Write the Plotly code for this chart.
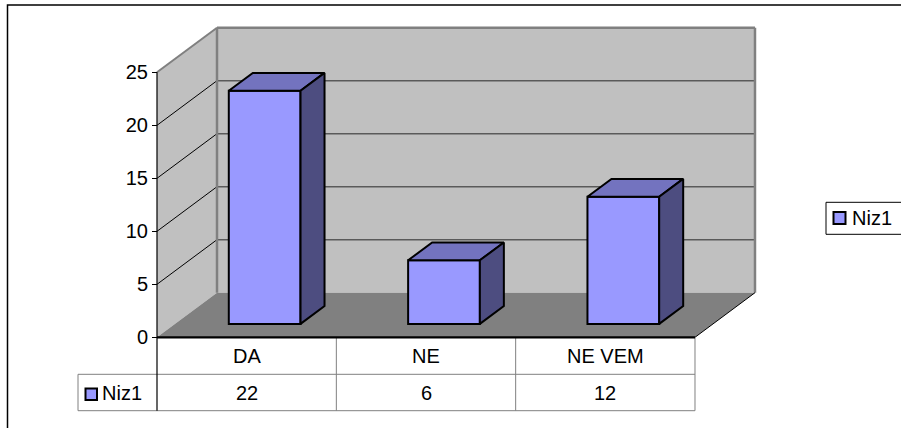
import plotly.graph_objects as go

# ---- data ----
categories = ["DA", "NE", "NE VEM"]
values = [22, 6, 12]
series_name = "Niz1"
y_ticks = [0, 5, 10, 15, 20, 25]

# ---- geometry (pixel calibration of the oblique projection) ----
W, H = 901, 428
X0_PX, CAT_PX = 157.0, 179.33      # front x of category 0, px per category
Y0_PX, UNIT_PX = 337.3, 10.6       # front y of value 0, px per value unit
DEPTH_DX_PX, DEPTH_DY_PX = 60.0, 44.6
DXc = DEPTH_DX_PX / CAT_PX          # depth offset in category units
DYv = DEPTH_DY_PX / UNIT_PX         # depth offset in value units
VMAX = 25
NCAT = len(categories)
BAR_D0, BAR_D1 = 0.3, 0.7
BAR_W = 0.4

def P(c, v, d):
    return c + d * DXc, v + d * DYv

def xd(px):
    return (px - X0_PX) / CAT_PX

def yd(py):
    return (Y0_PX - py) / UNIT_PX

FONT = "Liberation Sans, Arial, sans-serif"
FRONT = "#9999FF"
TOP = "#7373BF"
SIDE = "#4D4D80"
WALL = "#C0C0C0"
FLOOR = "#808080"

fig = go.Figure()

shapes = []

def poly(pts, fill, line_color=None, line_width=0, layer="below"):
    path = "M " + " L ".join(f"{x},{y}" for x, y in pts) + " Z"
    shapes.append(dict(type="path", path=path, xref="x", yref="y",
                       fillcolor=fill, layer=layer,
                       line=dict(color=line_color or fill, width=line_width)))

def seg(p0, p1, color, width, layer="below", dash="solid"):
    shapes.append(dict(type="line", xref="x", yref="y", x0=p0[0], y0=p0[1],
                       x1=p1[0], y1=p1[1], layer=layer,
                       line=dict(color=color, width=width, dash=dash)))

# walls and floor
poly([P(0, 0, 0), P(0, VMAX, 0), P(0, VMAX, 1), P(0, 0, 1)], WALL)
poly([P(0, 0, 1), P(0, VMAX, 1), P(NCAT, VMAX, 1), P(NCAT, 0, 1)], WALL)
poly([P(0, 0, 0), P(NCAT, 0, 0), P(NCAT, 0, 1), P(0, 0, 1)], FLOOR)

# gridlines
for t in y_ticks[1:-1]:
    seg(P(0, t, 0), P(0, t, 1), "#000000", 1)
    seg(P(0, t, 1), P(NCAT, t, 1), "#5a5a5a", 1.4)

# wall edges
seg(P(0, 0, 1), P(0, VMAX, 1), "#808080", 2.5)
seg(P(0, VMAX, 1), P(NCAT, VMAX, 1), "#808080", 2.5)
seg(P(NCAT, VMAX, 1), P(NCAT, 0, 1), "#808080", 2.5)
seg(P(0, VMAX, 0), P(0, VMAX, 1), "#808080", 2)
seg(P(NCAT, 0, 0), P(NCAT, 0, 1), "#000000", 1)

# bar fronts via bar trace
fig.add_trace(go.Bar(
    x=[i + 0.5 + BAR_D0 * DXc for i in range(NCAT)],
    y=values, base=BAR_D0 * DYv, width=BAR_W,
    marker=dict(color=FRONT, line=dict(color="black", width=2)),
    name=series_name, showlegend=False, hoverinfo="skip"))

# bar tops and sides
for i, v in enumerate(values):
    c0, c1 = i + 0.5 - BAR_W / 2, i + 0.5 + BAR_W / 2
    top = [P(c0, v, BAR_D0), P(c1, v, BAR_D0), P(c1, v, BAR_D1), P(c0, v, BAR_D1), P(c0, v, BAR_D0)]
    side = [P(c1, 0, BAR_D0), P(c1, v, BAR_D0), P(c1, v, BAR_D1), P(c1, 0, BAR_D1), P(c1, 0, BAR_D0)]
    for pts, col in ((top, TOP), (side, SIDE)):
        fig.add_trace(go.Scatter(
            x=[p[0] for p in pts], y=[p[1] for p in pts], mode="lines",
            fill="toself", fillcolor=col, line=dict(color="black", width=2),
            showlegend=False, hoverinfo="skip"))

# ---- data table ----
ROW1_BOT, ROW2_BOT = 374.3, 410.7
TBL_LEFT = 78.0
grey = "#808080"
seg((xd(TBL_LEFT), yd(ROW1_BOT)), (NCAT, yd(ROW1_BOT)), grey, 1, layer="above")
seg((xd(TBL_LEFT), yd(ROW2_BOT)), (NCAT, yd(ROW2_BOT)), grey, 1, layer="above")
seg((xd(TBL_LEFT), yd(ROW1_BOT)), (xd(TBL_LEFT), yd(ROW2_BOT)), grey, 1, layer="above")
for i in range(1, NCAT + 1):
    seg((i, 0), (i, yd(ROW2_BOT)), grey, 1, layer="above")
seg((0, VMAX), (0, yd(ROW2_BOT)), "#000000", 1.2, layer="above")
seg((0, 0), (NCAT, 0), "#000000", 2.2, layer="above")

annotations = []
for i, (cat, v) in enumerate(zip(categories, values)):
    annotations.append(dict(x=i + 0.5, y=yd((Y0_PX + ROW1_BOT) / 2), xref="x", yref="y",
                            text=cat, showarrow=False, font=dict(size=20, color="black", family=FONT)))
    annotations.append(dict(x=i + 0.5, y=yd((ROW1_BOT + ROW2_BOT) / 2), xref="x", yref="y",
                            text=str(v), showarrow=False, font=dict(size=20, color="black", family=FONT)))

def key_square(px_left, py_top, size=12):
    shapes.append(dict(type="rect", xref="x", yref="y",
                       x0=xd(px_left), x1=xd(px_left + size),
                       y0=yd(py_top), y1=yd(py_top + size),
                       fillcolor=FRONT, line=dict(color="black", width=2), layer="above"))

key_square(85.5, 388.5, 11.5)
annotations.append(dict(x=xd(99.5), y=yd((ROW1_BOT + ROW2_BOT) / 2), xref="x", yref="y",
                        text=series_name, showarrow=False, xanchor="left",
                        font=dict(size=20, color="black", family=FONT)))

# ---- legend box (runs off the right edge, as in the reference) ----
shapes.append(dict(type="rect", xref="paper", yref="paper", x0=826 / W, x1=1.1,
                   y0=1 - 234.3 / H, y1=1 - 202.3 / H, fillcolor="white",
                   line=dict(color="black", width=1), layer="above"))
key_square(833.5, 212, 12)
annotations.append(dict(x=xd(849.5), y=yd(218.3), xref="x", yref="y",
                        text=series_name, showarrow=False, xanchor="left",
                        font=dict(size=20, color="black", family=FONT)))

# outer chart border (runs off right and bottom edges)
shapes.append(dict(type="rect", xref="paper", yref="paper",
                   x0=7.5 / W, x1=1.1, y0=-0.1, y1=1 - 5 / H,
                   line=dict(color="black", width=1.5), layer="above"))

fig.update_layout(
    width=W, height=H,
    margin=dict(l=0, r=0, t=0, b=0),
    paper_bgcolor="white", plot_bgcolor="white",
    showlegend=False,
    xaxis=dict(range=[xd(0), xd(W)], visible=False, domain=[0, 1]),
    yaxis=dict(range=[yd(H), yd(0)], domain=[0, 1], anchor="free", position=X0_PX / W,
               tickvals=y_ticks, ticks="outside", ticklen=5, tickwidth=1, tickcolor="black",
               showgrid=False, zeroline=False, showline=False,
               tickfont=dict(size=20, color="black", family=FONT)),
    shapes=shapes, annotations=annotations,
    font=dict(family=FONT),
)

fig.write_html("out.html")
